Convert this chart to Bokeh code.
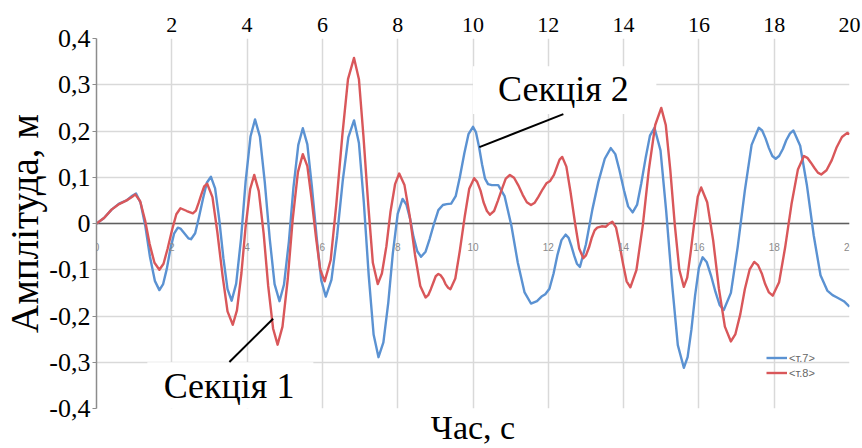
from bokeh.plotting import figure
from bokeh.models import (Range1d, FixedTicker, LinearAxis, Span, BoxAnnotation, Label,
                          Legend, LegendItem, CustomJSTickFormatter)
from bokeh.embed import file_html
from bokeh.resources import INLINE

# ---- data ----
t7 = [0.0, 0.2, 0.4, 0.6, 0.8, 0.95, 1.05,
      1.17, 1.3, 1.42, 1.55, 1.67,
      1.77, 1.87, 1.96, 2.06, 2.16,
      2.23, 2.3, 2.37, 2.44, 2.51,
      2.62, 2.72, 2.83, 2.93, 3.04,
      3.15, 3.26, 3.37, 3.48, 3.59,
      3.71, 3.84, 3.96, 4.09, 4.21,
      4.34, 4.47, 4.6, 4.73, 4.86,
      4.98, 5.11, 5.23, 5.36, 5.48,
      5.6, 5.72, 5.85, 5.97, 6.09,
      6.24, 6.39, 6.54, 6.69, 6.84,
      6.97, 7.1, 7.23, 7.36, 7.49,
      7.62, 7.75, 7.87, 8.0, 8.13,
      8.23, 8.33, 8.42, 8.52, 8.62,
      8.74, 8.85, 8.97, 9.08, 9.2, 9.3, 9.42,
      9.54, 9.65, 9.77, 9.88, 10.0,
      10.08, 10.16, 10.24, 10.32, 10.4, 10.5, 10.67,
      10.84, 11.02, 11.19, 11.37, 11.54,
      11.7, 11.82, 11.92,
      12.03, 12.14, 12.24, 12.35, 12.46,
      12.54, 12.61, 12.69, 12.76, 12.84,
      13.0, 13.17, 13.33, 13.5, 13.66,
      13.78, 13.89, 14.01, 14.12, 14.24,
      14.36, 14.47, 14.59, 14.7, 14.82,
      14.98, 15.13, 15.29, 15.44, 15.6,
      15.7, 15.8, 15.9, 16.0, 16.1,
      16.21, 16.32, 16.44, 16.55, 16.66,
      16.85, 17.03, 17.22, 17.4, 17.59,
      17.68, 17.77, 17.86, 17.95, 18.04,
      18.13, 18.23, 18.32, 18.42, 18.51,
      18.69, 18.87, 19.05, 19.23, 19.41,
      19.55, 19.67, 19.85, 20.0]
v7 = [0.0, 0.012, 0.03, 0.043, 0.05, 0.06, 0.065,
      0.045, -0.007, -0.072, -0.124, -0.144,
      -0.131, -0.097, -0.056, -0.022, -0.009,
      -0.011, -0.018, -0.025, -0.032, -0.034,
      -0.021, 0.013, 0.054, 0.088, 0.101,
      0.076, 0.009, -0.075, -0.142, -0.167,
      -0.13, -0.032, 0.09, 0.188, 0.225,
      0.188, 0.089, -0.032, -0.131, -0.168,
      -0.132, -0.039, 0.077, 0.17, 0.206,
      0.171, 0.08, -0.032, -0.123, -0.158,
      -0.122, -0.027, 0.092, 0.187, 0.223,
      0.174, 0.046, -0.112, -0.24, -0.289,
      -0.257, -0.171, -0.065, 0.021, 0.053,
      0.041, 0.01, -0.029, -0.06, -0.072,
      -0.061, -0.033, 0.001, 0.029, 0.04, 0.042, 0.043,
      0.059, 0.1, 0.152, 0.193, 0.209,
      0.197, 0.166, 0.128, 0.097, 0.085, 0.083, 0.083,
      0.059, -0.005, -0.085, -0.149, -0.173,
      -0.168, -0.158, -0.153,
      -0.141, -0.108, -0.069, -0.036, -0.024,
      -0.031, -0.048, -0.07, -0.087, -0.094,
      -0.045, 0.03, 0.09, 0.14, 0.163,
      0.15, 0.115, 0.072, 0.037, 0.024,
      0.041, 0.087, 0.144, 0.19, 0.207,
      0.158, 0.028, -0.133, -0.263, -0.312,
      -0.289, -0.23, -0.155, -0.096, -0.073,
      -0.084, -0.112, -0.148, -0.176, -0.187,
      -0.15, -0.051, 0.071, 0.17, 0.207,
      0.201, 0.184, 0.163, 0.146, 0.14,
      0.146, 0.161, 0.18, 0.195, 0.201,
      0.168, 0.082, -0.026, -0.112, -0.145,
      -0.155, -0.16, -0.168, -0.18]

t8 = [0.0, 0.2, 0.4, 0.6, 0.8, 0.95, 1.03,
      1.16, 1.29, 1.41, 1.54, 1.67,
      1.78, 1.89, 2.01, 2.12, 2.23,
      2.4, 2.56,
      2.64, 2.71, 2.79, 2.86, 2.94,
      3.08, 3.21, 3.35, 3.48, 3.62,
      3.73, 3.85, 3.96, 4.08, 4.19,
      4.31, 4.44, 4.56, 4.69, 4.81,
      4.94, 5.08, 5.21, 5.35, 5.48,
      5.6, 5.71, 5.83, 5.94, 6.06,
      6.22, 6.37, 6.53, 6.68, 6.84,
      6.97, 7.09, 7.22, 7.34, 7.47,
      7.58, 7.7, 7.81, 7.93, 8.04,
      8.18, 8.32, 8.46, 8.6, 8.74,
      8.81, 8.88, 8.95, 9.01, 9.08,
      9.14, 9.21, 9.27, 9.34, 9.4,
      9.53, 9.65, 9.78, 9.9, 10.03,
      10.11, 10.2, 10.28, 10.37, 10.45,
      10.56, 10.66, 10.77, 10.87, 10.98,
      11.09, 11.2, 11.32, 11.43, 11.54,
      11.64, 11.74, 11.85, 11.95, 12.05,
      12.15, 12.24, 12.3, 12.37,
      12.48, 12.59, 12.71, 12.82, 12.93,
      13.0, 13.08, 13.15, 13.23, 13.3,
      13.42, 13.53, 13.62, 13.7,
      13.8, 13.89, 13.99, 14.08, 14.18,
      14.34, 14.51, 14.67, 14.84, 15.0,
      15.12, 15.24, 15.36, 15.48, 15.6,
      15.69, 15.78, 15.88, 15.97, 16.06,
      16.22, 16.38, 16.53, 16.69, 16.85,
      16.97, 17.1, 17.22, 17.35, 17.47,
      17.57, 17.67, 17.76, 17.86, 17.96,
      18.13, 18.29, 18.46, 18.63, 18.79,
      18.88, 18.97, 19.07, 19.16, 19.25,
      19.39, 19.53, 19.66, 19.8, 19.94, 20.0]
v8 = [0.0, 0.012, 0.03, 0.042, 0.05, 0.058, 0.063,
      0.048, 0.007, -0.044, -0.085, -0.1,
      -0.087, -0.054, -0.013, 0.02, 0.033,
      0.027, 0.022,
      0.028, 0.044, 0.064, 0.08, 0.086,
      0.057, -0.019, -0.114, -0.19, -0.219,
      -0.188, -0.107, -0.007, 0.074, 0.105,
      0.07, -0.022, -0.135, -0.227, -0.262,
      -0.223, -0.12, 0.008, 0.111, 0.15,
      0.124, 0.055, -0.03, -0.099, -0.125,
      -0.079, 0.042, 0.191, 0.312, 0.358,
      0.312, 0.189, 0.038, -0.085, -0.131,
      -0.108, -0.049, 0.026, 0.085, 0.108,
      0.083, 0.016, -0.068, -0.135, -0.16,
      -0.155, -0.142, -0.127, -0.114, -0.109,
      -0.112, -0.12, -0.131, -0.139, -0.142,
      -0.119, -0.059, 0.015, 0.075, 0.098,
      0.09, 0.071, 0.046, 0.027, 0.019,
      0.027, 0.049, 0.075, 0.097, 0.105,
      0.099, 0.083, 0.062, 0.046, 0.04,
      0.045, 0.058, 0.074, 0.087, 0.092,
      0.105, 0.125, 0.138, 0.144,
      0.123, 0.068, 0.001, -0.054, -0.075,
      -0.069, -0.052, -0.032, -0.015, -0.009,
      -0.006, -0.007, 0.0, 0.004,
      -0.009, -0.045, -0.089, -0.125, -0.138,
      -0.101, -0.004, 0.116, 0.213, 0.25,
      0.213, 0.116, -0.003, -0.1, -0.137,
      -0.117, -0.063, 0.004, 0.058, 0.078,
      0.046, -0.037, -0.14, -0.223, -0.255,
      -0.239, -0.196, -0.142, -0.099, -0.083,
      -0.09, -0.108, -0.131, -0.149, -0.156,
      -0.127, -0.052, 0.042, 0.117, 0.146,
      0.142, 0.132, 0.12, 0.11, 0.106,
      0.115, 0.137, 0.165, 0.187, 0.196, 0.193]

series_names = ["<т.7>", "<т.8>"]
x_ticks = [0, 2, 4, 6, 8, 10, 12, 14, 16, 18, 20]
top_ticks = [2, 4, 6, 8, 10, 12, 14, 16, 18, 20]
y_ticks = [-0.4, -0.3, -0.2, -0.1, 0.0, 0.1, 0.2, 0.3, 0.4]
x_title = "Час, с"
y_title = "Амплітуда, м"
note1 = "Секція 1"
note2 = "Секція 2"
# annotation placement (data units)
note1_pos = (3.52, -0.351)
note2_pos = (12.4, 0.291)
note1_box = (1.35, 5.76, -0.4, -0.3)
note2_box = (10.0, 14.87, 0.237, 0.34)
pointer_x0 = [3.53, 12.4]
pointer_y0 = [-0.2995, 0.2365]
pointer_x1 = [4.69, 10.17]
pointer_y1 = [-0.206, 0.165]

SERIF = "Liberation Serif"
BLUE = "#5b92d2"
RED = "#d9575a"
GRID = "#d9d9d9"

p = figure(width=862, height=448, output_backend="svg", toolbar_location=None,
           x_range=Range1d(0, 20), y_range=Range1d(-0.4, 0.4),
           min_border_left=96, min_border_right=13, min_border_top=38, min_border_bottom=40)
p.outline_line_color = None
p.background_fill_color = "white"

# grids
p.xgrid.ticker = FixedTicker(ticks=x_ticks)
p.ygrid.ticker = FixedTicker(ticks=y_ticks)
for g in (p.xgrid[0], p.ygrid[0]):
    g.grid_line_color = GRID
    g.grid_line_width = 1.5

# left axis
ya = p.yaxis[0]
ya.ticker = FixedTicker(ticks=y_ticks)
ya.formatter = CustomJSTickFormatter(
    code="if (Math.abs(tick) < 1e-9) { return '0'; } return tick.toFixed(1).replace('.', ',');")
ya.major_label_text_font = SERIF
ya.major_label_text_font_size = "26px"
ya.major_label_text_color = "black"
ya.major_label_standoff = 2
ya.axis_line_color = "#8c8c8c"
ya.axis_line_width = 1.5
ya.major_tick_line_color = "#8c8c8c"
ya.major_tick_out = 4
ya.major_tick_in = 0
ya.minor_tick_line_color = None
ya.axis_label = y_title
ya.axis_label_text_font = SERIF
ya.axis_label_text_font_size = "39px"
ya.axis_label_text_font_style = "normal"
ya.axis_label_text_color = "black"
ya.axis_label_standoff = 0

# bottom axis: only title
xa = p.xaxis[0]
xa.ticker = FixedTicker(ticks=[])
xa.axis_line_color = None
xa.major_tick_line_color = None
xa.minor_tick_line_color = None
xa.major_label_text_font_size = "0px"
xa.axis_label = x_title
xa.axis_label_text_font = SERIF
xa.axis_label_text_font_size = "34px"
xa.axis_label_text_font_style = "normal"
xa.axis_label_text_color = "black"
xa.axis_label_standoff = 0

# top axis with serif labels
ta = LinearAxis(ticker=FixedTicker(ticks=top_ticks))
ta.axis_line_color = None
ta.major_tick_line_color = None
ta.minor_tick_line_color = None
ta.major_label_text_font = SERIF
ta.major_label_text_font_size = "22px"
ta.major_label_text_color = "black"
ta.major_label_standoff = 1
p.add_layout(ta, "above")

# white label boxes (cover gridlines)
for (l, r, b, t) in (note1_box, note2_box):
    p.add_layout(BoxAnnotation(left=l, right=r, bottom=b, top=t, fill_color="white",
                               fill_alpha=1.0, line_color=None, level="underlay"))

# zero line
p.add_layout(Span(location=0, dimension="width", line_color="#5f5f5f", line_width=1.5,
                  level="underlay"))

# small gray labels at the zero line
for xv in x_ticks:
    p.add_layout(Label(x=xv, y=0, text=str(xv), text_font="Liberation Sans",
                       text_font_size="10px", text_color="#8a8a8a", text_align="center",
                       text_baseline="middle", y_offset=-23, level="overlay"))

r7 = p.line(t7, v7, line_color=BLUE, line_width=2.4, line_join="round")
r8 = p.line(t8, v8, line_color=RED, line_width=2.4, line_join="round")

# pointer lines
p.segment(x0=pointer_x0, y0=pointer_y0, x1=pointer_x1, y1=pointer_y1,
          line_color="black", line_width=2)

for txt, (x, y) in ((note1, note1_pos), (note2, note2_pos)):
    p.add_layout(Label(x=x, y=y, text=txt, text_font=SERIF, text_font_size="36px",
                       text_color="black", text_align="center", text_baseline="middle"))

legend = Legend(items=[LegendItem(label=series_names[0], renderers=[r7]),
                       LegendItem(label=series_names[1], renderers=[r8])],
                location=(670, 28), padding=0, margin=0, spacing=0,
                glyph_width=21, glyph_height=15, label_height=15, label_standoff=2,
                label_text_font="Liberation Sans", label_text_font_size="11px",
                label_text_color="#666666", background_fill_alpha=0,
                border_line_color=None)
p.add_layout(legend)

open("out.html", "w").write(file_html(p, INLINE))
